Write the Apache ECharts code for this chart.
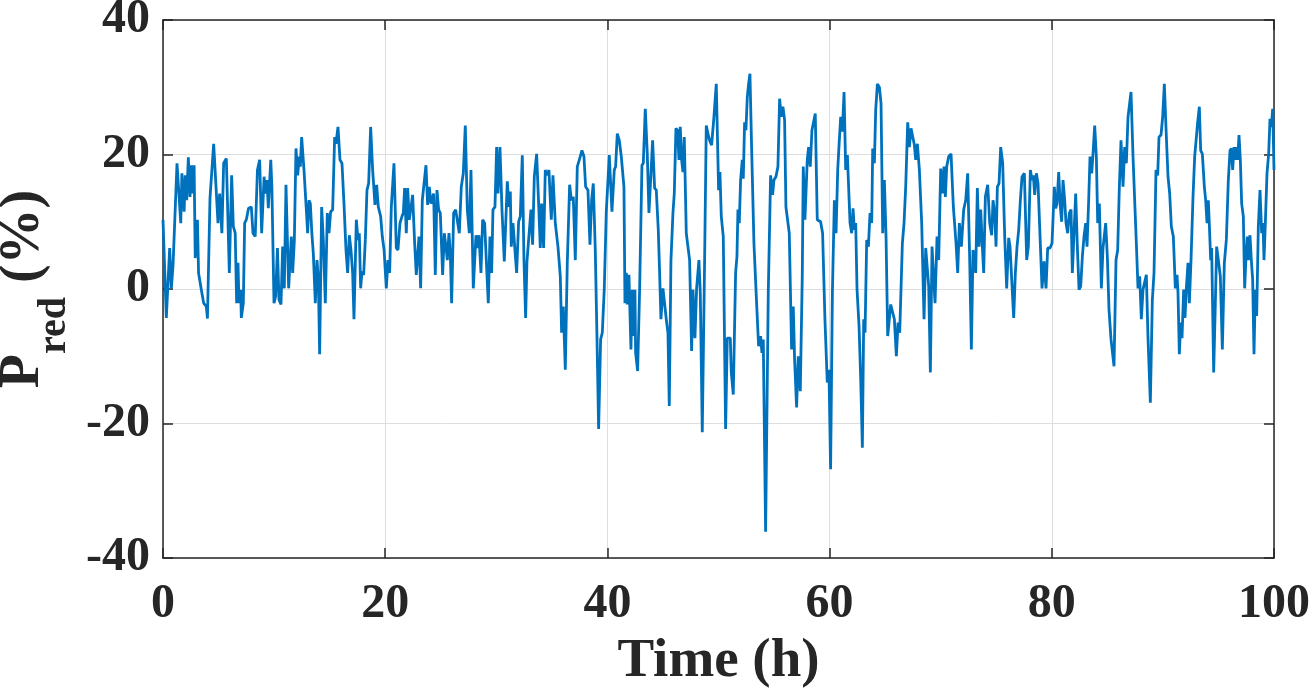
<!DOCTYPE html>
<html>
<head>
<meta charset="utf-8">
<script src="https://cdn.jsdelivr.net/npm/echarts@6/dist/echarts.min.js"></script>
<style>
html,body{margin:0;padding:0;background:#fff;}
#chart{width:1314px;height:690px;}
</style>
</head>
<body>
<div id="chart"></div>
<script>
// Time (h)
const timeH = [
0,0.3,0.6,0.75,0.9,1.26,1.6,1.7,1.9,2.0,2.13,2.28,2.43,2.55,2.7,2.8,2.9,3.1,3.2,3.45,3.66,3.9,4.0,4.23,4.35,4.56,4.7,4.95,5.1,5.3,5.46,5.7,5.97,6.18,6.33,6.5,6.63,6.75,6.84,6.99,7.05,7.23,7.35,7.5,7.7,7.95,8.1,8.3,8.5,8.7,8.88,9.1,9.2,9.36,9.48,9.7,9.8,
9.99,10.14,10.3,10.44,10.62,10.77,10.92,11.07,11.19,11.31,11.43,11.55,11.67,11.82,11.97,12.12,12.27,12.36,12.48,12.69,12.9,13.02,13.14,13.26,13.41,13.53,13.71,13.86,13.98,14.1,14.28,14.43,14.61,14.79,14.94,15.09,15.27,15.45,15.57,15.75,15.93,16.11,16.29,16.47,16.62,16.77,16.92,17.07,17.19,17.4,17.55,17.67,17.79,17.91,18.06,18.21,18.36,18.51,18.69,18.87,19.08,19.23,19.38,19.59,19.74,19.9,
20.1,20.25,20.4,20.55,20.79,21.0,21.15,21.33,21.51,21.63,21.75,21.9,22.02,22.17,22.32,22.47,22.65,22.8,22.95,23.04,23.19,23.34,23.49,23.67,23.82,23.97,24.12,24.36,24.51,24.66,24.81,24.96,25.17,25.32,25.47,25.59,25.74,25.86,25.98,26.16,26.34,26.52,26.67,26.85,27.03,27.21,27.39,27.57,27.72,27.93,28.05,28.17,28.32,28.44,28.62,28.77,28.95,29.1,29.28,29.43,29.58,29.7,29.88,
30.03,30.15,30.33,30.51,30.72,30.87,30.99,31.14,31.26,31.35,31.5,31.65,31.83,32.01,32.16,32.34,32.49,32.64,32.76,32.94,33.12,33.27,33.42,33.63,33.81,33.96,34.08,34.26,34.41,34.59,34.74,34.86,34.95,35.1,35.31,35.55,35.76,35.88,36.03,36.21,36.39,36.6,36.75,36.93,37.11,37.29,37.47,37.71,37.89,38.04,38.25,38.43,38.58,38.73,38.91,39.06,39.21,39.39,39.54,39.72,39.9,
40.17,40.41,40.62,40.74,40.89,41.07,41.25,41.49,41.58,41.7,41.79,41.94,42.12,42.24,42.36,42.48,42.54,42.72,42.9,43.11,43.23,43.41,43.59,43.74,43.89,44.07,44.25,44.4,44.58,44.7,44.82,45.0,45.15,45.3,45.45,45.57,45.72,45.9,46.02,46.17,46.32,46.44,46.56,46.68,46.8,46.92,47.1,47.4,47.58,47.7,47.88,48.03,48.24,48.36,48.54,48.75,48.9,49.05,49.2,49.38,49.59,49.8,
50.01,50.13,50.25,50.43,50.64,50.79,51.06,51.15,51.33,51.54,51.66,51.75,51.87,51.99,52.14,52.23,52.35,52.47,52.59,52.71,52.83,52.98,53.19,53.43,53.61,53.79,53.91,54.03,54.24,54.48,54.69,54.87,54.99,55.17,55.35,55.5,55.65,55.8,55.95,56.07,56.22,56.37,56.58,56.73,56.85,57.03,57.18,57.36,57.54,57.63,57.78,57.99,58.11,58.26,58.41,58.59,58.71,58.89,59.19,59.37,59.58,59.79,59.94,
60.09,60.25,60.43,60.58,60.73,60.85,61.0,61.15,61.3,61.45,61.6,61.84,61.99,62.11,62.23,62.35,62.47,62.65,62.8,62.95,63.07,63.19,63.34,63.49,63.64,63.79,63.88,64.03,64.15,64.3,64.48,64.63,64.78,64.93,65.08,65.23,65.38,65.5,65.68,65.83,66.01,66.16,66.31,66.55,66.7,66.85,67.03,67.18,67.33,67.48,67.63,67.75,67.9,68.08,68.29,68.5,68.65,68.8,68.92,69.07,69.22,69.34,69.49,69.67,69.82,
70.0,70.15,70.3,70.42,70.54,70.72,70.93,71.14,71.38,71.53,71.68,71.86,72.07,72.25,72.43,72.61,72.76,72.91,73.06,73.15,73.3,73.45,73.6,73.75,73.87,74.02,74.23,74.41,74.59,74.71,74.86,74.98,75.1,75.25,75.4,75.58,75.76,75.94,76.12,76.24,76.42,76.57,76.72,76.87,77.02,77.17,77.32,77.53,77.74,77.89,78.07,78.22,78.34,78.46,78.61,78.76,78.94,79.12,79.3,79.48,79.63,79.84,80.02,
80.23,80.35,80.47,80.62,80.77,80.89,81.01,81.16,81.28,81.43,81.58,81.73,81.85,82.0,82.15,82.3,82.45,82.6,82.75,82.9,83.05,83.17,83.32,83.44,83.59,83.71,83.86,84.01,84.13,84.28,84.46,84.61,84.73,84.85,85.0,85.15,85.33,85.48,85.6,85.78,85.93,86.08,86.23,86.41,86.56,86.71,86.86,86.98,87.13,87.31,87.46,87.61,87.76,87.91,88.06,88.21,88.36,88.51,88.66,88.87,89.05,89.2,89.38,89.53,89.65,89.83,89.98,
90.13,90.28,90.46,90.61,90.76,90.94,91.12,91.27,91.36,91.48,91.6,91.72,91.87,91.99,92.11,92.26,92.38,92.53,92.71,92.86,93.01,93.13,93.28,93.4,93.55,93.73,93.85,93.97,94.09,94.21,94.3,94.39,94.57,94.72,94.84,94.99,95.17,95.35,95.53,95.71,95.89,96.04,96.16,96.28,96.4,96.52,96.64,96.73,96.85,96.97,97.09,97.24,97.36,97.48,97.6,97.69,97.84,97.96,98.08,98.2,98.32,98.44,98.59,98.74,98.89,99.01,99.1,99.22,99.37,99.52,99.64,99.76,99.88,100.0
];
// P_red (%)
const pRed = [
10.3,-4.3,6.1,0.1,3.4,18.7,9.8,17.2,11.5,16.9,13.2,19.6,13.7,18.4,14.2,18.4,4.6,10.3,2.4,-0.1,-2.1,-2.6,-4.4,13.5,13.7,21.6,21.6,9.8,14.2,8.3,18.7,19.4,2.4,16.9,9.3,8.3,-2.1,3.9,-2.1,-0.1,-4.3,-2.1,9.8,10.3,12.0,12.2,8.3,7.8,17.7,19.2,8.3,16.7,14.2,16.2,12.0,19.2,15.2,
-2.1,-1.1,6.1,-1.6,-2.3,6.3,0.1,15.5,15.5,0.1,3.9,7.8,2.4,7.1,20.9,16.9,19.7,18.2,22.6,17.7,11.8,8.3,13.2,12.7,8.0,5.3,-2.1,4.3,1.6,-9.7,12.2,7.3,-2.1,11.3,8.3,11.5,11.8,22.6,21.6,24.1,19.2,18.7,12.7,5.8,2.4,8.0,5.8,2.4,-4.5,10.3,7.3,8.3,0.1,2.6,2.1,7.3,14.7,15.7,24.1,17.7,12.5,15.5,12.2,10.8,7.8,5.8,
0.1,4.3,2.4,12.2,18.7,6.1,5.8,9.8,10.8,11.3,15.0,8.3,15.0,10.3,10.5,14.0,6.8,2.1,2.1,7.8,0.1,13.2,13.2,18.4,12.5,15.2,12.7,14.2,2.1,14.7,11.8,11.3,2.1,8.3,6.3,4.3,8.3,5.3,-2.1,11.3,11.8,11.8,8.3,15.2,17.2,24.3,11.8,8.3,17.7,0.1,0.1,8.0,6.1,8.0,2.4,10.3,9.8,4.3,-2.1,7.8,2.4,11.8,12.2,
21.1,14.2,21.1,11.8,4.1,4.3,16.0,12.2,14.5,6.3,9.8,9.8,2.4,10.0,10.8,19.9,4.3,-4.3,4.1,4.3,11.8,6.6,16.7,20.1,12.7,6.1,12.7,6.1,17.7,16.9,17.7,13.2,10.3,16.9,9.8,6.3,1.9,-6.5,-2.6,-12.0,3.9,15.5,13.2,13.7,4.3,18.2,19.2,20.6,19.7,15.2,14.7,6.6,13.2,15.7,5.8,-7.0,-20.8,-7.5,-6.5,0.1,11.5,
19.9,11.5,17.7,18.2,23.1,22.1,19.7,15.2,-2.1,2.4,-2.3,2.1,-9.0,-0.1,-7.0,-0.1,-9.5,-12.2,-0.1,18.4,18.7,26.8,20.1,11.3,16.2,22.1,15.0,14.7,8.8,2.4,-4.5,0.1,0.1,-4.5,-6.5,-17.4,4.3,11.3,14.2,23.9,23.6,19.2,24.1,19.2,17.4,22.6,8.3,4.3,-9.2,-0.1,-7.3,0.1,4.3,-0.6,-21.3,4.3,24.3,23.1,22.1,21.4,25.6,30.5,
14.7,17.4,10.8,7.8,-20.8,-7.3,-7.3,-12.4,-15.7,2.4,4.8,11.8,9.8,16.2,19.2,16.4,24.8,23.6,28.5,30.5,32.0,21.1,6.8,-2.1,-8.5,-7.0,-9.5,-7.5,-36.1,-0.6,16.9,14.0,16.2,16.7,18.2,28.3,25.6,27.1,25.1,12.2,12.2,8.3,-9.0,-2.6,-10.5,-17.6,-10.0,-15.2,1.9,18.2,10.3,19.2,21.1,18.2,23.6,25.1,26.1,10.3,10.0,8.3,-4.5,-13.9,-12.0,
-26.8,-0.6,13.2,8.3,17.7,21.4,25.6,23.4,29.3,17.7,19.9,9.8,8.3,12.0,8.8,9.8,-0.1,-5.5,-13.4,-23.6,-4.5,-6.5,7.3,6.3,11.3,9.8,20.9,18.7,26.6,30.5,30.0,27.6,8.3,16.2,7.8,-7.0,-7.0,-2.3,-2.3,-4.5,-10.0,-5.0,-6.5,6.8,9.8,15.2,24.8,21.1,23.9,23.9,21.4,19.2,21.6,17.7,9.8,-4.5,6.1,6.1,0.4,-12.4,6.3,6.3,-2.1,7.8,4.3,
17.9,14.2,18.2,13.7,18.2,19.7,20.1,12.2,6.8,2.4,9.8,6.3,11.8,13.2,17.2,4.3,-9.0,5.8,5.8,2.4,15.0,6.3,11.8,6.3,2.4,13.7,15.5,9.8,8.0,13.2,11.3,6.3,15.2,15.7,21.1,18.7,7.8,0.1,7.6,6.3,6.1,-4.3,2.4,6.3,8.8,13.2,16.7,17.2,4.3,6.3,17.7,16.2,16.9,14.0,17.2,15.7,15.5,0.1,4.1,0.1,6.1,6.1,6.8,
15.2,12.0,12.7,17.4,12.2,10.0,16.2,13.2,9.8,8.3,11.3,11.8,2.4,8.3,14.2,6.3,-0.1,0.4,4.8,7.8,9.8,6.3,13.2,19.7,17.2,20.1,24.3,19.7,9.8,12.7,0.1,6.1,6.1,9.8,4.8,-3.1,-7.5,-7.5,-11.5,4.3,5.8,15.2,22.1,15.2,21.1,18.7,25.6,25.6,29.3,19.7,13.2,6.8,0.1,1.9,-4.5,-0.1,-0.1,2.1,-7.3,-16.9,-1.6,2.4,17.7,16.9,22.6,22.9,25.6,
30.5,23.9,16.7,14.2,9.3,7.8,0.1,2.1,-0.6,-9.7,-5.0,-7.3,-0.1,-4.3,0.1,3.9,-2.1,4.3,13.7,19.7,19.7,24.8,27.1,20.6,20.1,15.2,13.2,9.8,13.2,8.3,4.3,6.1,-12.4,-2.1,6.3,6.3,1.9,-9.0,3.9,7.3,16.2,20.6,20.9,17.7,21.1,19.2,21.1,19.2,22.9,19.2,12.7,10.8,0.1,4.8,7.8,4.3,8.0,4.3,1.4,-9.7,-0.1,-4.0,9.3,14.7,8.3,9.8,4.3,9.8,17.2,20.1,25.3,24.1,26.8,17.7
];
const xTicks = [0, 20, 40, 60, 80, 100];
const yTicks = [-40, -20, 0, 20, 40];

const chart = echarts.init(document.getElementById('chart'), null, {renderer: 'canvas'});
const seriesData = timeH.map((t, i) => [t, pRed[i]]);
const fontFam = '"Liberation Serif", "Times New Roman", serif';
const axisColor = '#262626';
const gridColor = '#dedede';

const baseX = {
  type: 'value', min: xTicks[0], max: xTicks[xTicks.length - 1], interval: 20,
  axisLine: {show: true, onZero: false, lineStyle: {color: axisColor, width: 1.5}},
  axisTick: {show: true, inside: true, length: 10, lineStyle: {color: axisColor, width: 1.5}},
};
const baseY = {
  type: 'value', min: yTicks[0], max: yTicks[yTicks.length - 1], interval: 20,
  axisLine: {show: true, onZero: false, lineStyle: {color: axisColor, width: 1.5}},
  axisTick: {show: true, inside: true, length: 10, lineStyle: {color: axisColor, width: 1.5}},
};

chart.setOption({
  animation: false,
  backgroundColor: '#ffffff',
  grid: {left: 163, right: 40, top: 20, bottom: 132, containLabel: false, outerBoundsMode: 'none'},
  xAxis: [
    Object.assign({}, baseX, {
      position: 'bottom',
      name: 'Time (h)', nameLocation: 'middle', nameGap: 70,
      nameTextStyle: {fontFamily: fontFam, fontWeight: 'bold', fontSize: 55, lineHeight: 55, color: axisColor},
      axisLabel: {show: true, margin: 23, fontFamily: fontFam, fontWeight: 'bold', fontSize: 48, lineHeight: 48, color: axisColor},
      splitLine: {show: true, lineStyle: {color: gridColor, width: 1}}
    }),
    Object.assign({}, baseX, {
      position: 'top', axisLabel: {show: false}, splitLine: {show: false}
    })
  ],
  yAxis: [
    Object.assign({}, baseY, {
      position: 'left',
      name: '{a|P}{b|red}{a| (%)}', nameLocation: 'middle', nameGap: 84, nameRotate: 90,
      nameTextStyle: {
        color: axisColor,
        rich: {
          a: {fontFamily: fontFam, fontWeight: 'bold', fontSize: 56, lineHeight: 56, color: axisColor, verticalAlign: 'bottom', padding: [0, 0, 24, 0]},
          b: {fontFamily: fontFam, fontWeight: 'bold', fontSize: 40, lineHeight: 40, color: axisColor, verticalAlign: 'bottom'}
        }
      },
      axisLabel: {show: true, margin: 13, fontFamily: fontFam, fontWeight: 'bold', fontSize: 48, color: axisColor},
      splitLine: {show: true, lineStyle: {color: gridColor, width: 1}}
    }),
    Object.assign({}, baseY, {
      position: 'right', axisLabel: {show: false}, splitLine: {show: false}
    })
  ],
  series: [{
    type: 'line',
    data: seriesData,
    showSymbol: false,
    symbol: 'none',
    lineStyle: {color: '#0072BD', width: 2.8},
    xAxisIndex: 0, yAxisIndex: 0
  }]
});
</script>
</body>
</html>
